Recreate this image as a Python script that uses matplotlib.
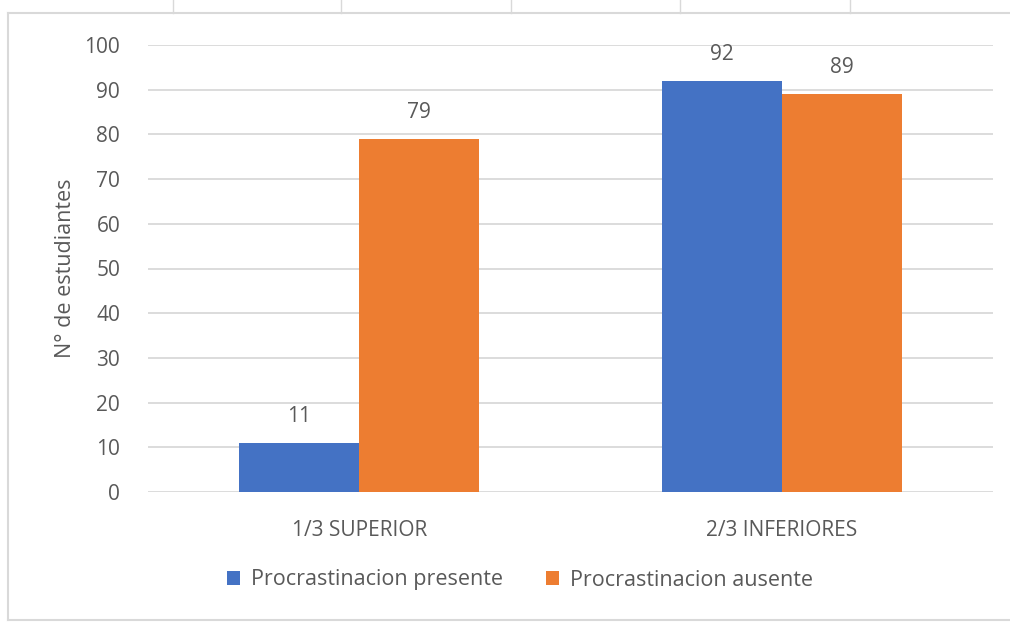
import matplotlib.pyplot as plt
import numpy as np
from matplotlib.lines import Line2D

categorias = ["1/3 SUPERIOR", "2/3 INFERIORES"]
series = ["Procrastinacion presente", "Procrastinacion ausente"]
presente = [11, 92]
ausente = [79, 89]
colores = ["#4472C4", "#ED7D31"]
texto = "#595959"

plt.rcParams["font.family"] = ["Open Sans", "DejaVu Sans"]
fs = 15

fig = plt.figure(figsize=(10.10, 6.22), dpi=100)
ax = fig.add_axes([148 / 1010, 1 - 492 / 622, 845 / 1010, 447 / 622])

x = np.arange(len(categorias))
ancho = 0.284
b1 = ax.bar(x - ancho / 2, presente, ancho, color=colores[0], label=series[0], zorder=3)
b2 = ax.bar(x + ancho / 2, ausente, ancho, color=colores[1], label=series[1], zorder=3)

for barras in (b1, b2):
    for b in barras:
        ax.annotate(f"{b.get_height():.0f}", (b.get_x() + b.get_width() / 2, b.get_height()),
                    xytext=(0, 19), textcoords="offset points", ha="center", va="center",
                    fontsize=fs, color=texto)

ax.set_xlim(-0.5, 1.5)
ax.set_ylim(0, 100)
ax.set_yticks(range(0, 101, 10))
ax.set_xticks(x)
ax.set_xticklabels(categorias)
ax.grid(axis="y", color="#D9D9D9", linewidth=1.3, zorder=0)
for s in ax.spines.values():
    s.set_visible(False)
ax.tick_params(axis="both", length=0, colors=texto, labelsize=fs)
ax.tick_params(axis="y", pad=20)
ax.tick_params(axis="x", pad=20)
ax.set_ylabel("N° de estudiantes", fontsize=15.5, color=texto, labelpad=6)

ax.legend(loc="center", bbox_to_anchor=(520 / 1010, 1 - 580 / 622), bbox_transform=fig.transFigure,
          ncol=2, frameon=False, fontsize=15.5, handlelength=0.6, handleheight=0.6,
          handletextpad=0.5, columnspacing=2.0, labelcolor=texto)

# marco exterior del gráfico y marcas superiores
borde = "#D9D9D9"
fig.add_artist(Line2D([8 / 1010, 1], [1 - 13 / 622] * 2, color=borde, lw=1.5, transform=fig.transFigure))
fig.add_artist(Line2D([8 / 1010] * 2, [1 - 13 / 622, 1 - 620 / 622], color=borde, lw=1.5, transform=fig.transFigure))
fig.add_artist(Line2D([8 / 1010, 1], [1 - 620 / 622] * 2, color=borde, lw=1.5, transform=fig.transFigure))
for px in [173, 341, 511, 680, 850]:
    fig.add_artist(Line2D([px / 1010] * 2, [1, 1 - 13 / 622], color=borde, lw=1, transform=fig.transFigure))

fig.savefig("out.png", dpi=100)
